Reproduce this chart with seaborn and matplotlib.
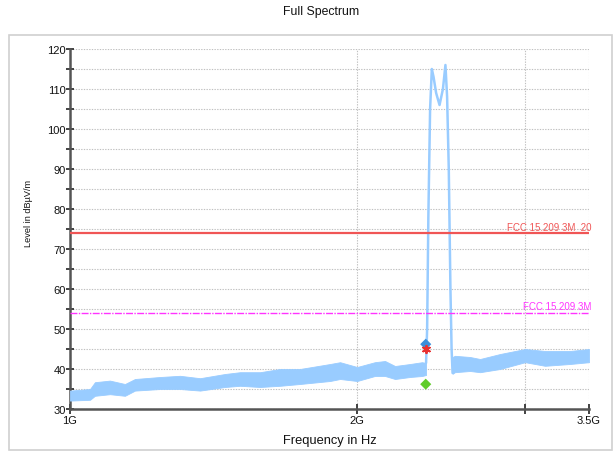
import numpy as np
import pandas as pd
import matplotlib
matplotlib.use("Agg")
import matplotlib.pyplot as plt
from matplotlib.patches import Rectangle
from matplotlib.ticker import FixedLocator, NullFormatter
import seaborn as sns

# Noise floor envelope of the sweep (GHz, dBuV/m)
floor_freq = [1.000, 1.0495, 1.062, 1.1013, 1.1419, 1.1698, 1.2428, 1.3043, 1.3688,
              1.4537, 1.5073, 1.5819, 1.6600, 1.7421, 1.8736, 1.9193, 2.000, 2.0873,
              2.1393, 2.1916, 2.2724, 2.3392, 2.3619]
floor_low = [32.1, 32.3, 33.3, 33.7, 33.3, 34.6, 35.0, 35.0, 34.6,
             35.5, 35.8, 35.5, 35.8, 36.25, 37.0, 37.5, 37.0, 38.25,
             38.25, 37.5, 38.0, 38.25, 38.5]
floor_high = [34.6, 35.0, 36.7, 37.1, 36.25, 37.5, 38.0, 38.3, 37.7,
              38.75, 39.2, 39.2, 40.0, 40.0, 41.25, 41.7, 40.5, 41.7,
              42.0, 40.75, 41.25, 41.7, 41.5]

# Noise floor above the carrier
upper_freq = [2.518, 2.532, 2.6266, 2.6908, 2.8242, 3.000, 3.1476, 3.3432, 3.500]
upper_low = [38.8, 39.2, 39.5, 39.2, 40.0, 41.7, 40.8, 41.25, 41.7]
upper_high = [43.0, 43.3, 43.0, 42.5, 43.75, 45.0, 44.5, 44.5, 45.0]

# Carrier envelope
peak_freq = [2.3619, 2.368, 2.375, 2.385, 2.395, 2.405, 2.42, 2.44, 2.46,
             2.475, 2.485, 2.495, 2.505, 2.512, 2.518]
peak_level = [41.5, 50.0, 78.0, 105.0, 115.0, 113.0, 109.0, 106.0, 110.0,
              116.0, 108.0, 90.0, 60.0, 45.0, 39.0]

# Limit lines
limit_names = ["FCC 15.209 3M_20", "FCC 15.209 3M"]
limit_levels = [74.0, 54.0]

# Final measurement markers
marker_freq = [2.36, 2.36, 2.36]
marker_level = [46.2, 45.0, 36.2]
marker_kind = ["peak", "avg", "qp"]

y_ticks = list(range(30, 121, 10))
x_ticks = [1.0, 2.0, 3.0, 3.5]
x_tick_labels = ["1G", "2G", "", "3.5G"]

sns.set_theme(style="white")
plt.rcParams["font.family"] = ["Liberation Sans", "DejaVu Sans"]

fig = plt.figure(figsize=(6.16, 4.52), dpi=100)
fig.patches.append(Rectangle((9 / 616, 1 - 451 / 452), 603 / 616, 415 / 452,
                             transform=fig.transFigure, fill=False,
                             edgecolor="#d0d0d0", linewidth=1.2, zorder=0))
ax = fig.add_axes([70 / 616, 1 - 410 / 452, 519 / 616, 360 / 452])

trace = "#99ccff"
ax.fill_between(floor_freq, floor_low, floor_high, color=trace, linewidth=0.6,
                edgecolor=trace, zorder=3)
ax.fill_between(upper_freq, upper_low, upper_high, color=trace, linewidth=0.6,
                edgecolor=trace, zorder=3)
peak_df = pd.DataFrame({"f": peak_freq, "lvl": peak_level})
sns.lineplot(data=peak_df, x="f", y="lvl", ax=ax, color=trace, linewidth=1.8,
             sort=False, zorder=3)

# Limit lines with labels
ax.axhline(limit_levels[0], color="#f05555", linewidth=1.6, zorder=4)
ax.axhline(limit_levels[1], color="#ff33ff", linewidth=1.0, linestyle=(0, (5, 1, 1, 1)), zorder=4)
ax.text(3.52, limit_levels[0] + 0.4, limit_names[0], color="#f05555", fontsize=7,
        ha="right", va="bottom", zorder=5)
ax.text(3.52, limit_levels[1] + 0.4, limit_names[1], color="#ff33ff", fontsize=7,
        ha="right", va="bottom", zorder=5)

mk = pd.DataFrame({"f": marker_freq, "lvl": marker_level, "kind": marker_kind})
diamonds = mk[mk["kind"] != "avg"]
sns.scatterplot(data=diamonds, x="f", y="lvl", hue="kind", ax=ax,
                palette={"peak": "#3a8fdc", "qp": "#60cc2a"},
                marker="D", s=32, linewidth=0, legend=False, zorder=6)
sns.scatterplot(data=mk[mk["kind"] == "avg"], x="f", y="lvl", ax=ax,
                color="#e83030", marker=(6, 2, 0), s=28, linewidth=1.4,
                legend=False, zorder=7)

ax.set_xscale("log")
ax.set_xlim(1.0, 3.5)
ax.set_ylim(30, 120)
ax.xaxis.set_major_locator(FixedLocator(x_ticks))
ax.xaxis.set_minor_locator(FixedLocator([]))
ax.xaxis.set_minor_formatter(NullFormatter())
ax.set_xticklabels(x_tick_labels)
ax.set_yticks(y_ticks)
ax.set_yticks(list(range(35, 120, 10)), minor=True)

ax.grid(True, which="both", axis="y", color="#c0c0c0", linestyle=(0, (1.2, 1.2)), linewidth=0.8)
ax.grid(True, which="major", axis="x", color="#c0c0c0", linestyle=(0, (1.2, 1.2)), linewidth=0.8)
ax.set_axisbelow(True)

for side in ["top", "right"]:
    ax.spines[side].set_visible(False)
for side in ["left", "bottom"]:
    ax.spines[side].set_color("#555555")
    ax.spines[side].set_linewidth(1.8)

ax.tick_params(axis="y", which="major", direction="inout", length=6, width=1.2,
               color="#222222", labelsize=8, pad=0, left=True, labelcolor="#111111")
ax.tick_params(axis="y", which="minor", direction="inout", length=6, width=1.2,
               color="#222222", left=True)
ax.tick_params(axis="x", which="major", direction="inout", length=7, width=1.2,
               color="#222222", labelsize=8, pad=1, bottom=True, labelcolor="#111111")

ax.set_xlabel("Frequency in Hz", fontsize=9.3, labelpad=6, color="#111111")
ax.set_ylabel("Level in dBµV/m", fontsize=6.6, color="#111111")
ax.yaxis.set_label_coords(-0.071, 0.547)
fig.text(321 / 616, 1 - 12 / 452, "Full Spectrum", ha="center", va="center",
         fontsize=8.8, color="#111111")

fig.savefig("out.png", dpi=100)
